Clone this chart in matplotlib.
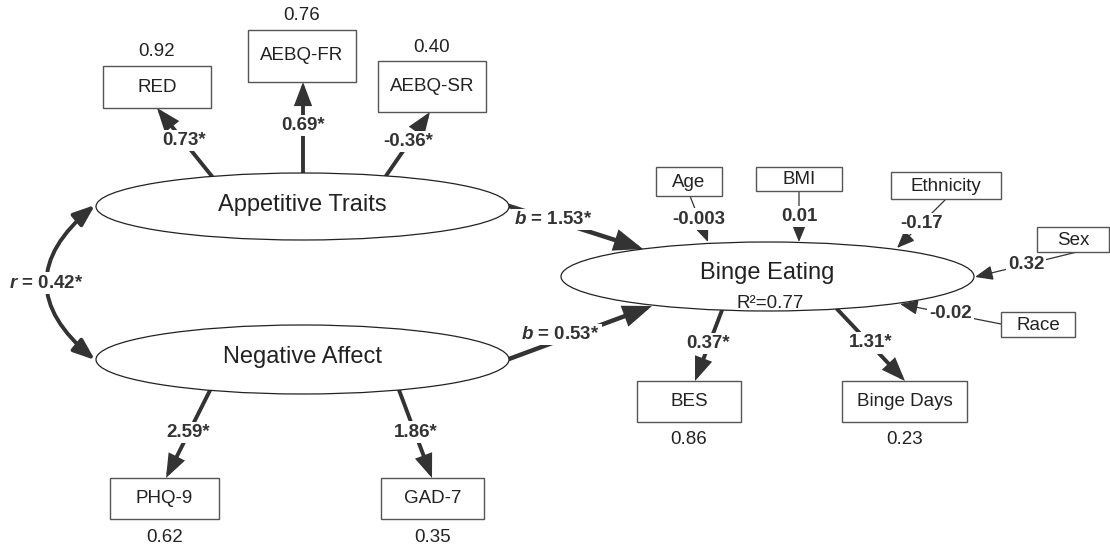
import numpy as np
import matplotlib
matplotlib.use("Agg")
import matplotlib.pyplot as plt
from matplotlib.patches import Ellipse, Rectangle, FancyArrowPatch

plt.rcParams['font.family'] = ['Liberation Sans', 'DejaVu Sans']
plt.rcParams['mathtext.fontset'] = 'custom'
plt.rcParams['mathtext.rm'] = 'Liberation Sans'
plt.rcParams['mathtext.it'] = 'Liberation Sans:italic'
plt.rcParams['mathtext.bf'] = 'Liberation Sans:bold'
plt.rcParams['mathtext.bfit'] = 'Liberation Sans:italic:bold'

# --- model values
latents = ["Appetitive Traits", "Negative Affect", "Binge Eating"]
r2_binge = "0.77"
corr_r = "0.42*"
paths_b = ["1.53*", "0.53*"]          # Appetitive -> Binge, Negative -> Binge

indicators = ["RED", "AEBQ-FR", "AEBQ-SR", "PHQ-9", "GAD-7", "BES", "Binge Days"]
loadings = ["0.73*", "0.69*", "-0.36*", "2.59*", "1.86*", "0.37*", "1.31*"]
residuals = ["0.92", "0.76", "0.40", "0.62", "0.35", "0.86", "0.23"]
ind_factor = [0, 0, 0, 1, 1, 2, 2]

covariates = ["Age", "BMI", "Ethnicity", "Sex", "Race"]
cov_coefs = ["-0.003", "0.01", "-0.17", "0.32", "-0.02"]

# --- layout (pixel space of the 1110x551 figure)
ell = {0: (302.5, 206.5, 413, 67), 1: (302.5, 359.5, 413, 69), 2: (767.5, 276.5, 413, 69)}
ind_box = [(103, 66, 211, 108), (248, 30, 356, 82), (378, 61, 486, 112),
           (110, 478, 219, 519), (381, 478, 484, 519),
           (637, 381, 741, 422), (842, 381, 967, 422)]
ind_start_x = [212, 303, 386, 210, 399, 722, 837]   # where loading leaves ellipse
ind_end_x = [157, 303, 430, 166, 432, 695, 905]     # where arrow meets box
cov_box = [(656, 167, 722, 196), (756, 167, 842, 191), (891, 172, 1001, 199),
           (1037, 227, 1109, 252), (1001, 312, 1075, 337)]
cov_line = [((690, 196), (708, 242)), ((799, 191), (799, 242)), ((946, 199), (897, 248)),
            ((1077, 252), (975, 277)), ((1001, 324), (900, 304))]

dark = '#333333'
fig = plt.figure(figsize=(11.1, 5.51), dpi=100)
ax = fig.add_axes([0, 0, 1, 1])
ax.set_xlim(0, 1110)
ax.set_ylim(551, 0)
ax.axis('off')


def ell_y(k, x, top):
    cx, cy, w, h = ell[k]
    t = 1 - ((x - cx) / (w / 2)) ** 2
    d = h / 2 * np.sqrt(max(t, 0))
    return cy - d if top else cy + d


def arrow(p0, p1, lw, ms, hl, hw, color=dark):
    a = FancyArrowPatch(p0, p1, arrowstyle=f'-|>,head_length={hl},head_width={hw}',
                        mutation_scale=ms, lw=lw, color=color, shrinkA=0, shrinkB=0,
                        joinstyle='miter', zorder=2)
    ax.add_patch(a)


def label(x, y, s, size=13.5, weight='bold', **kw):
    ax.text(x, y, s, ha='center', va='center', fontsize=size, fontweight=weight,
            color=dark, zorder=5,
            bbox=dict(facecolor='white', edgecolor='none', pad=1.5), **kw)


# latent ellipses
for k, name in enumerate(latents):
    cx, cy, w, h = ell[k]
    ax.add_patch(Ellipse((cx, cy), w, h, facecolor='white', edgecolor='#222222', lw=0.9, zorder=3))
    ty = cy - 2 if k < 2 else cy - 3
    ax.text(cx, ty, name, ha='center', va='center', fontsize=17, color='#222222', zorder=4)
cx, cy, w, h = ell[2]
ax.text(cx + 3, cy + 27, "R²=" + r2_binge, ha='center', va='center', fontsize=13.5,
        color='#222222', zorder=4)

# indicators with loadings and residual variances
for i, name in enumerate(indicators):
    x0, y0, x1, y1 = ind_box[i]
    ax.add_patch(Rectangle((x0, y0), x1 - x0, y1 - y0, facecolor='white',
                           edgecolor='#555555', lw=1.0, zorder=3))
    ax.text((x0 + x1) / 2, (y0 + y1) / 2, name, ha='center', va='center',
            fontsize=13.5, color='#222222', zorder=4)
    k = ind_factor[i]
    above = y1 < ell[k][1]
    sx = ind_start_x[i]
    p0 = (sx, ell_y(k, sx, top=above))
    p1 = (ind_end_x[i], y1 if above else y0)
    arrow(p0, p1, lw=2.8, ms=12, hl=1.0, hw=0.38)
    mx, my = (p0[0] + p1[0]) / 2, (p0[1] + p1[1]) / 2 - 2
    label(mx, my, loadings[i])
    ry = y0 - 14 if above else y1 + 18
    ax.text((x0 + x1) / 2, ry, residuals[i], ha='center', va='center',
            fontsize=13.5, color='#222222')

# covariates
for i, name in enumerate(covariates):
    x0, y0, x1, y1 = cov_box[i]
    ax.add_patch(Rectangle((x0, y0), x1 - x0, y1 - y0, facecolor='white',
                           edgecolor='#555555', lw=1.0, zorder=3))
    ax.text((x0 + x1) / 2, (y0 + y1) / 2 + 1, name, ha='center', va='center',
            fontsize=13.5, color='#222222', zorder=4)
    p0, p1 = cov_line[i]
    arrow(p0, p1, lw=0.9, ms=10, hl=1.1, hw=0.45)
    label((p0[0] + p1[0]) / 2, (p0[1] + p1[1]) / 2, cov_coefs[i])

# structural paths
b_paths = [((509, 206), (643, 249), 0.33, -1), ((509, 359), (652, 306), 0.36, -5)]
for (p0, p1, f, dy), val in zip(b_paths, paths_b):
    arrow(p0, p1, lw=3.2, ms=15, hl=1.0, hw=0.38)
    label(p0[0] + f * (p1[0] - p0[0]), p0[1] + f * (p1[1] - p0[1]) + dy,
          r"$\mathbfit{b}$ = " + val)

# factor correlation
corr = FancyArrowPatch((95, 205), (95, 360), connectionstyle="arc3,rad=0.6",
                       arrowstyle='<|-|>,head_length=1.0,head_width=0.38',
                       mutation_scale=13, lw=2.8, color=dark, shrinkA=0, shrinkB=0, zorder=2)
ax.add_patch(corr)
label(46, 283, r"$\mathbfit{r}$ = " + corr_r)

fig.savefig("out.png", dpi=100, facecolor='white')
